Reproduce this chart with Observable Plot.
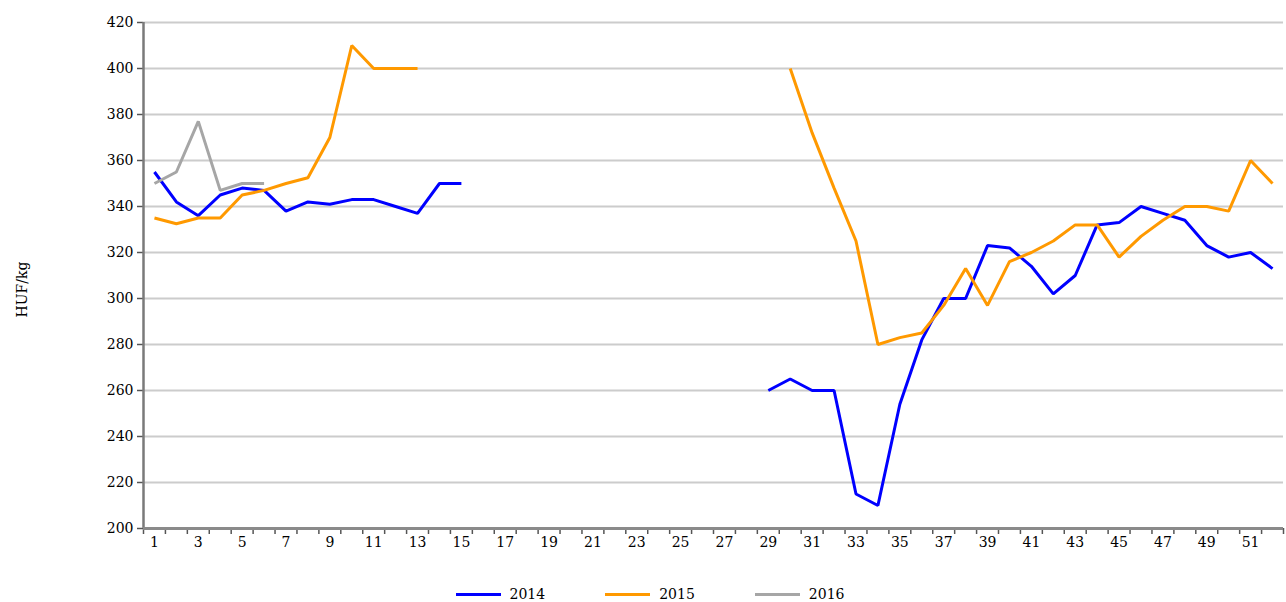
<!DOCTYPE html>
<html><head><meta charset="utf-8">
<script src="https://cdn.jsdelivr.net/npm/d3@7"></script>
<script src="https://cdn.jsdelivr.net/npm/@observablehq/plot@0.6"></script>
<style>
body{margin:0;background:#fff;font-family:"DejaVu Serif",serif;}
#legend{display:flex;justify-content:center;align-items:center;height:24px;margin-top:4px;padding-left:14px;font-size:14px;color:#000;}
.item{display:flex;align-items:center;margin:0 30px;}
.sw{width:45px;height:3px;margin-right:9px;}
</style></head>
<body><div id="chart"></div><div id="legend"></div>
<script>
const weeks = [1,2,3,4,5,6,7,8,9,10,11,12,13,14,15,16,17,18,19,20,21,22,23,24,25,26,27,28,29,30,31,32,33,34,35,36,37,38,39,40,41,42,43,44,45,46,47,48,49,50,51,52];
const xTickLabels = [1,3,5,7,9,11,13,15,17,19,21,23,25,27,29,31,33,35,37,39,41,43,45,47,49,51];
const yTicks = [200,220,240,260,280,300,320,340,360,380,400,420];
const seriesNames = ["2014","2015","2016"];
const seriesColors = ["#0000ff","#ff9900","#a6a6a6"];
const N = null;
const v2014 = [355,342,336,345,348,347,338,342,341,343,343,340,337,350,350,
  N,N,N,N,N,N,N,N,N,N,N,N,N,
  260,265,260,260,215,210,254,282,300,300,323,322,314,302,310,332,333,340,337,334,323,318,320,313];
const v2015 = [335,332.5,335,335,345,347,350,352.5,370,410,400,400,400,
  N,N,N,N,N,N,N,N,N,N,N,N,N,N,N,N,
  400,372,348,325,280,283,285,297,313,297,316,320,325,332,332,318,327,334,340,340,338,360,350];
const v2016 = [350,355,377,347,350,350,
  N,N,N,N,N,N,N,N,N,N,N,N,N,N,N,N,N,N,N,N,N,N,N,N,N,N,N,N,N,N,N,N,N,N,N,N,N,N,N,N,N,N,N,N,N,N];

const allValues = [v2014, v2015, v2016];
const rows = [];
seriesNames.forEach((s, i) => weeks.forEach((w, j) => rows.push({week: w, value: allValues[i][j], series: s})));

const xDomain = [weeks[0] - 0.5, weeks[weeks.length - 1] + 0.5];
const yDomain = [yTicks[0], yTicks[yTicks.length - 1]];
const boundaries = weeks.map(w => w - 0.5).concat([weeks[weeks.length - 1] + 0.5]);

const chart = Plot.plot({
  width: 1286, height: 578,
  marginLeft: 143, marginRight: 3, marginTop: 22, marginBottom: 50,
  style: {fontFamily: "'DejaVu Serif', serif", fontSize: "14px", color: "#000", background: "#fff"},
  x: {domain: xDomain, axis: null},
  y: {domain: yDomain, axis: null},
  color: {domain: seriesNames, range: seriesColors},
  marks: [
    Plot.gridY(yTicks, {stroke: "#cccccc", strokeOpacity: 1, strokeWidth: 2}),
    Plot.axisY(yTicks, {tickSize: 6, tickPadding: 4, stroke: "#555", strokeWidth: 1.5, label: null, fontSize: 14}),
    Plot.axisX(boundaries, {tickSize: 6, tickFormat: () => "", stroke: "#555", strokeWidth: 1.5, label: null}),
    Plot.axisX(xTickLabels, {tickSize: 0, tickPadding: 9, label: null, fontSize: 14}),
    Plot.ruleX([xDomain[0]], {stroke: "#7a7a7a", strokeWidth: 2.5}),
    Plot.ruleY([yDomain[0]], {stroke: "#8a8a8a", strokeWidth: 3}),
    Plot.line(rows, {x: "week", y: "value", z: "series", stroke: "series", strokeWidth: 3, strokeLinejoin: "miter", strokeLinecap: "butt"}),
    Plot.text(["HUF/kg"], {frameAnchor: "left", dx: -121, dy: 42, rotate: -90, fontSize: 14, fill: "#000"})
  ]
});
document.getElementById("chart").appendChild(chart);

const legend = document.getElementById("legend");
seriesNames.forEach((s, i) => {
  const it = document.createElement("div"); it.className = "item";
  const sw = document.createElement("div"); sw.className = "sw"; sw.style.background = seriesColors[i];
  const t = document.createElement("span"); t.textContent = s;
  it.appendChild(sw); it.appendChild(t); legend.appendChild(it);
});
</script>
</body></html>
